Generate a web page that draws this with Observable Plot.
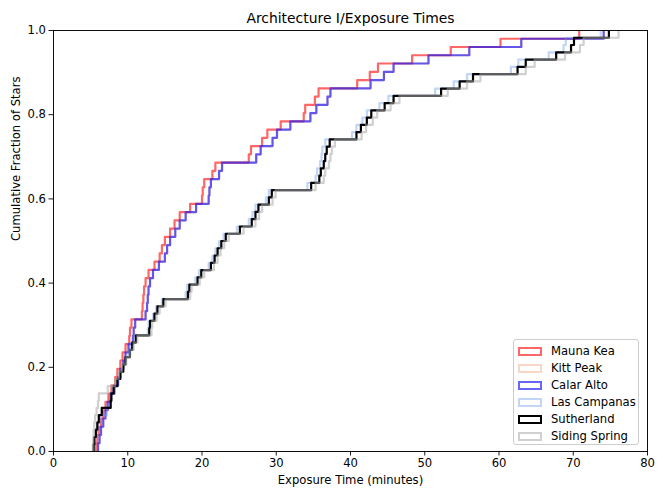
<!DOCTYPE html>
<html>
<head>
<meta charset="utf-8">
<script src="https://cdn.jsdelivr.net/npm/d3@7"></script>
<script src="https://cdn.jsdelivr.net/npm/@observablehq/plot@0.6"></script>
<style>
  body { margin: 0; background: #fff; }
  #chart { position: relative; width: 664px; height: 492px; font-family: "DejaVu Sans", sans-serif; }
  .legend { position: absolute; left: 513px; top: 339px; width: 126px; height: 106px;
            border: 1px solid #cccccc; border-radius: 3px; background: rgba(255,255,255,0.8);
            box-sizing: border-box; }
  .legend .row { position: absolute; left: 0; height: 17px; width: 100%; }
  .legend .sw { position: absolute; left: 4px; top: 4px; width: 24px; height: 9px; box-sizing: border-box; border-style: solid; border-width: 2.2px; }
  .legend .lab { position: absolute; left: 37px; top: 0; font-size: 11.6px; line-height: 17px; color: #000; white-space: nowrap; }
</style>
</head>
<body>
<div id="chart"></div>
<script>
// Observatories, in drawing order
const stations = ["Mauna Kea", "Kitt Peak", "Calar Alto", "Las Campanas", "Sutherland", "Siding Spring"];

// Sorted exposure times (minutes), one per star, for each site
const maunaKea = [5.7, 5.9, 6.1, 6.4, 6.7, 7.0, 7.4, 7.8, 8.3, 8.6, 9.0, 9.3, 9.7, 10.2, 10.3, 10.5,
  11.9, 12.0, 12.1, 12.2, 12.4, 12.8, 13.6, 14.3, 14.6, 15.0, 15.7, 16.3, 17.0, 18.4, 20.0, 20.1, 20.3,
  21.4, 21.8, 26.3, 26.6, 28.1, 28.8, 30.6, 33.7, 33.9, 35.2, 35.7, 40.9, 42.6, 43.7, 48.3, 53.5, 60.2, 70.8];
const kittPeak = [6.0, 6.2, 6.4, 6.7, 7.0, 7.3, 7.7, 8.2, 8.7, 9.0, 9.4, 9.7, 10.1, 10.7, 10.8, 11.0,
  12.4, 12.6, 12.7, 12.8, 13.0, 13.4, 14.2, 15.0, 15.3, 15.7, 16.4, 17.0, 17.8, 19.2, 20.9, 21.0, 21.2,
  22.3, 22.7, 27.3, 27.9, 29.5, 30.1, 31.9, 34.6, 35.4, 36.9, 37.3, 42.7, 44.5, 45.8, 50.5, 56.0, 63.0, 74.1];
const calarAlto = [6.0, 6.2, 6.4, 6.7, 7.0, 7.3, 7.7, 8.2, 8.7, 9.0, 9.4, 9.7, 10.1, 10.7, 10.8, 11.0,
  12.4, 12.6, 12.7, 12.8, 13.0, 13.4, 14.2, 15.0, 15.3, 15.7, 16.4, 17.0, 17.8, 19.2, 20.9, 21.0, 21.2,
  22.3, 22.7, 27.3, 27.9, 29.5, 30.1, 31.9, 34.6, 35.4, 36.9, 37.3, 42.7, 44.5, 45.8, 50.5, 56.0, 63.0, 74.1];
const lasCampanas = [5.5, 5.6, 5.8, 6.0, 6.3, 7.2, 7.6, 7.7, 8.0, 8.5, 8.9, 9.3, 9.6, 10.1, 10.4, 10.9,
  12.7, 12.8, 13.4, 13.8, 14.6, 17.8, 18.0, 19.1, 19.6, 20.9, 21.4, 21.8, 22.3, 22.9, 24.7, 26.3, 26.8,
  27.2, 28.6, 29.0, 34.2, 35.3, 35.5, 35.9, 36.1, 36.2, 36.6, 40.2, 40.8, 41.6, 42.2, 43.9, 45.1, 51.4,
  53.9, 55.7, 61.6, 62.6, 66.7, 68.7, 69.0, 73.7];
const sutherland = [5.4, 5.5, 5.7, 5.9, 6.1, 6.5, 7.7, 7.8, 8.1, 8.6, 9.0, 9.4, 9.7, 10.3, 10.6, 11.1,
  12.9, 13.0, 13.6, 14.0, 14.8, 18.1, 18.3, 19.4, 19.9, 21.2, 21.7, 22.1, 22.6, 23.2, 25.1, 26.7, 27.2,
  27.6, 29.0, 29.4, 34.7, 35.8, 36.0, 36.4, 36.6, 36.8, 37.2, 40.8, 41.4, 42.2, 42.8, 44.6, 45.8, 52.2,
  54.7, 56.5, 62.5, 63.6, 67.7, 69.7, 70.1, 74.8];
const sidingSpring = [5.3, 5.35, 5.4, 5.5, 5.6, 5.8, 6.0, 6.1, 7.3, 8.3, 8.8, 9.2, 9.8, 10.3, 10.8, 11.3,
  13.2, 13.3, 13.9, 14.3, 15.1, 18.4, 18.6, 19.7, 20.3, 21.6, 22.1, 22.5, 23.0, 23.6, 25.6, 27.2, 27.7,
  28.1, 29.5, 29.9, 35.3, 36.4, 36.6, 37.1, 37.3, 37.5, 37.9, 41.5, 42.1, 43.0, 43.6, 45.4, 46.6, 53.1,
  55.7, 57.5, 63.6, 64.8, 68.9, 70.9, 71.4, 76.1];

const xTicks = [0, 10, 20, 30, 40, 50, 60, 70, 80];
const yTicks = [0, 0.2, 0.4, 0.6, 0.8, 1.0];

// Line appearance per site
const strokeColor = {
  "Mauna Kea": "red", "Kitt Peak": "#f4a57e", "Calar Alto": "blue",
  "Las Campanas": "cornflowerblue", "Sutherland": "black", "Siding Spring": "darkgray"
};
const strokeAlpha = {
  "Mauna Kea": 0.6, "Kitt Peak": 0.45, "Calar Alto": 0.6,
  "Las Campanas": 0.4, "Sutherland": 1, "Siding Spring": 0.55
};

const timesBySite = {
  "Mauna Kea": maunaKea, "Kitt Peak": kittPeak, "Calar Alto": calarAlto,
  "Las Campanas": lasCampanas, "Sutherland": sutherland, "Siding Spring": sidingSpring
};

// Cumulative fraction of stars: starts at zero at the shortest time, rises 1/N per star
function cumulative(site) {
  const t = timesBySite[site];
  const n = t.length;
  const pts = [{site, t: t[0], f: 0}];
  t.forEach((v, i) => pts.push({site, t: v, f: (i + 1) / n}));
  return pts;
}

const lineMarks = stations.map(site => Plot.line(cumulative(site), {
  x: "t", y: "f", curve: "step-after",
  stroke: strokeColor[site], strokeOpacity: strokeAlpha[site], strokeWidth: 2.2,
  clip: true
}));

const chart = Plot.plot({
  width: 664, height: 492,
  marginLeft: 53, marginRight: 17, marginTop: 30, marginBottom: 41,
  style: {fontFamily: "DejaVu Sans", fontSize: "11.6px", color: "#000", background: "#fff"},
  x: {domain: [0, 80]},
  y: {domain: [0, 1]},
  marks: [
    ...lineMarks,
    Plot.axisX({ticks: xTicks, tickSize: 4.5, tickPadding: 3, label: null, strokeWidth: 0.9}),
    Plot.axisY({ticks: yTicks, tickSize: 4.5, tickPadding: 3, label: null, strokeWidth: 0.9, tickFormat: d => d.toFixed(1)}),
    Plot.frame({stroke: "black", strokeWidth: 0.95}),
    Plot.text(["Architecture I/Exposure Times"], {frameAnchor: "top", dy: -12, fontSize: 13.9, lineAnchor: "middle"}),
    Plot.text(["Exposure Time (minutes)"], {frameAnchor: "bottom", dy: 29, fontSize: 11.6, lineAnchor: "middle"}),
    Plot.text(["Cumulative Fraction of Stars"], {frameAnchor: "left", dx: -37, rotate: -90, fontSize: 11.6, lineAnchor: "middle"})
  ]
});

const root = document.getElementById("chart");
root.appendChild(chart);

// Legend box in the lower right of the plotting area
const legend = document.createElement("div");
legend.className = "legend";
stations.forEach((site, i) => {
  const row = document.createElement("div");
  row.className = "row";
  row.style.top = (2.5 + i * 17.1) + "px";
  const sw = document.createElement("div");
  sw.className = "sw";
  sw.style.borderColor = strokeColor[site];
  sw.style.opacity = strokeAlpha[site];
  const lab = document.createElement("div");
  lab.className = "lab";
  lab.textContent = site;
  row.appendChild(sw);
  row.appendChild(lab);
  legend.appendChild(row);
});
root.appendChild(legend);
</script>
</body>
</html>
